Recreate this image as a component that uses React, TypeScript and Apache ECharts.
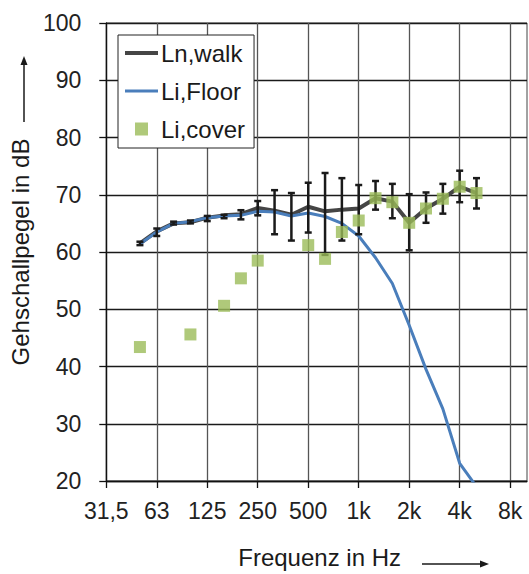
import React, { useEffect, useRef } from "react";
import * as echarts from "echarts";

// Third-octave band centre frequencies (category axis)
const bands = ["31,5","40","50","63","80","100","125","160","200","250","315","400","500","630","800","1k","1,25k","1,6k","2k","2,5k","3,15k","4k","5k","6,3k","8k","10k"];

// Ln,walk (dB), aligned to bands
const walk = [null, null, 61.5, 63.6, 65.0, 65.2, 66.0, 66.4, 66.6, 67.7, 67.2, 66.5, 67.9, 67.1, 67.4, 67.6, 69.4, 68.8, 65.1, 67.6, 69.3, 71.4, 70.3, null, null, null];
const walkLow = [null, null, 61.2, 62.8, 64.8, 65.0, 65.4, 65.9, 65.7, 66.4, 63.1, 62.0, 63.4, 59.5, 62.0, 63.1, 67.4, 65.9, 60.3, 65.1, 66.7, 68.7, 67.6, null, null, null];
const walkHigh = [null, null, 61.8, 64.1, 65.3, 65.5, 66.3, 66.5, 67.3, 68.9, 70.8, 70.3, 72.1, 73.8, 72.9, 71.7, 72.4, 71.9, 70.1, 70.4, 71.9, 74.2, 72.9, null, null, null];

// Li,Floor (dB)
const floor = [null, null, 61.4, 63.5, 65.0, 65.3, 66.0, 66.3, 66.4, 67.1, 67.0, 66.3, 66.8, 66.2, 65.0, 62.8, 59.0, 54.5, 47.2, 39.5, 32.6, 23.1, 19.0, null, null, null];

// Li,cover (dB)
const cover = [null, null, 43.4, null, null, 45.6, null, 50.6, 55.4, 58.5, null, null, 61.2, 58.8, 63.5, 65.5, 69.4, 68.7, 65.1, 67.6, 69.3, 71.4, 70.3, null, null, null];

const FONT = "'Liberation Sans', Arial, sans-serif";

export default function App() {
  const ref = useRef<HTMLDivElement>(null);
  useEffect(() => {
    document.body.style.margin = "0";
    const chart = echarts.init(ref.current!, null, { renderer: "svg" });
    const errData = bands
      .map((b, i) => (walkLow[i] != null ? [i, walkLow[i], walkHigh[i]] : null))
      .filter((d) => d !== null);
    chart.setOption({
      animation: false,
      backgroundColor: "#fff",
      textStyle: { fontFamily: FONT },
      grid: {
        left: 103,
        right: 2,
        top: 23,
        bottom: 86,
        show: true,
        borderColor: "#444",
        borderWidth: 1,
      },
      legend: {
        left: 118,
        top: 35,
        orient: "vertical",
        padding: [6, 9, 7, 7],
        itemGap: 14,
        itemWidth: 33,
        itemHeight: 13,
        borderColor: "#222",
        borderWidth: 1,
        backgroundColor: "#fff",
        textStyle: { fontSize: 24, color: "#1a1a1a", fontFamily: FONT, padding: [0, 0, 0, -2] },
        data: [
          { name: "Ln,walk", icon: "path://M0,0L33,0L33,4L0,4Z" },
          { name: "Li,Floor", icon: "path://M0,0L33,0L33,3L0,3Z" },
          { name: "Li,cover", icon: "path://M0,0L10,0L10,10L0,10Z" },
        ],
      },
      xAxis: {
        type: "category",
        data: bands,
        boundaryGap: false,
        name: "Frequenz in Hz",
        nameLocation: "middle",
        nameGap: 64,
        nameTextStyle: { fontSize: 24, color: "#1a1a1a", fontFamily: FONT, padding: [0, 0, 0, 6] },
        axisLine: { lineStyle: { color: "#111", width: 1.3 } },
        axisTick: { show: true, interval: 2, length: 7, lineStyle: { color: "#111", width: 1.3 } },
        axisLabel: { interval: 2, fontSize: 23, color: "#222", margin: 18, fontFamily: FONT },
        splitLine: { show: true, interval: 2, lineStyle: { color: "#555", width: 1.3 } },
      },
      yAxis: {
        type: "value",
        min: 20,
        max: 100,
        interval: 10,
        name: "Gehschallpegel in dB",
        nameLocation: "middle",
        nameRotate: 90,
        nameGap: 56,
        nameTextStyle: { fontSize: 24, color: "#1a1a1a", fontFamily: FONT },
        axisLine: { show: true, lineStyle: { color: "#111", width: 1.3 } },
        axisTick: { show: true, length: 7, lineStyle: { color: "#111", width: 1.3 } },
        axisLabel: { fontSize: 23, color: "#222", margin: 25, fontFamily: FONT },
        splitLine: { show: true, lineStyle: { color: "#1a1a1a", width: 1.3 } },
      },
      series: [
        {
          name: "Ln,walk",
          type: "line",
          data: walk,
          symbol: "none",
          connectNulls: false,
          lineStyle: { color: "#454545", width: 4 },
          itemStyle: { color: "#454545" },
          z: 2,
        },
        {
          name: "Li,Floor",
          type: "line",
          data: floor,
          symbol: "none",
          clip: true,
          lineStyle: { color: "#4a7ebb", width: 3 },
          itemStyle: { color: "#4a7ebb" },
          z: 3,
        },
        {
          name: "walkErr",
          type: "custom",
          data: errData,
          encode: { x: 0, y: [1, 2] },
          z: 4,
          renderItem: (params: any, api: any) => {
            const x = api.value(0);
            const lo = api.coord([x, api.value(1)]);
            const hi = api.coord([x, api.value(2)]);
            const cw = 3.5;
            const st = { stroke: "#1a1a1a", lineWidth: 2.5 };
            return {
              type: "group",
              children: [
                { type: "line", shape: { x1: lo[0], y1: lo[1], x2: hi[0], y2: hi[1] }, style: st },
                { type: "line", shape: { x1: lo[0] - cw, y1: lo[1], x2: lo[0] + cw, y2: lo[1] }, style: st },
                { type: "line", shape: { x1: hi[0] - cw, y1: hi[1], x2: hi[0] + cw, y2: hi[1] }, style: st },
              ],
            };
          },
        },
        {
          name: "Li,cover",
          type: "scatter",
          data: cover,
          symbol: "rect",
          symbolSize: 12,
          itemStyle: { color: "#9bbb59" },
          z: 5,
        },
      ],
      graphic: [
        // y-axis title arrow
        { type: "line", shape: { x1: 24, y1: 122, x2: 24, y2: 63 }, style: { stroke: "#1a1a1a", lineWidth: 1.5 } },
        { type: "polygon", shape: { points: [[24, 56], [20.5, 65], [27.5, 65]] }, style: { fill: "#1a1a1a" } },
        // x-axis title arrow
        { type: "line", shape: { x1: 422, y1: 564, x2: 482, y2: 564 }, style: { stroke: "#1a1a1a", lineWidth: 1.5 } },
        { type: "polygon", shape: { points: [[489, 564], [480, 560.5], [480, 567.5]] }, style: { fill: "#1a1a1a" } },
      ],
    });
    return () => chart.dispose();
  }, []);
  return <div ref={ref} style={{ width: 529, height: 574 }} />;
}
